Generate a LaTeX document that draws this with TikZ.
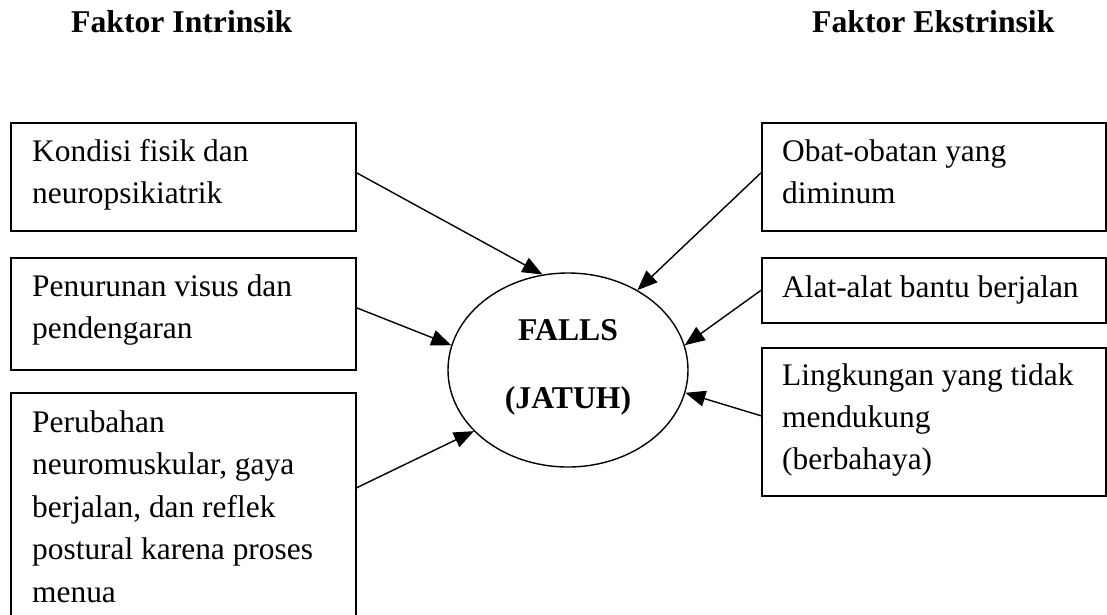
\documentclass[tikz,border=0pt]{standalone}
\usepackage{fontspec}
\setmainfont{Liberation Serif}
\usetikzlibrary{arrows.meta,shapes.geometric}
\begin{document}
\begin{tikzpicture}[x=1pt,y=-1pt,
 box/.style={draw,line width=1.6pt,rectangle,inner sep=0pt,anchor=north west},
 txt/.style={anchor=base west,inner sep=0pt,align=left,font=\fontsize{31.4}{42}\selectfont},
 ttl/.style={anchor=base west,inner sep=0pt,font=\fontsize{31.7}{38}\selectfont\bfseries},
 ctr/.style={anchor=base,inner sep=0pt,font=\fontsize{31.7}{38}\selectfont\bfseries},
 arr/.style={line width=1.4pt,-{Triangle[length=20pt,width=16pt]}}]
\useasboundingbox (0,0) rectangle (1107,614);
\clip (0,0) rectangle (1107,614);
% titles
\node[ttl] (ti) at (71,32) {Faktor Intrinsik};
\node[ttl] (te) at (812,32) {Faktor Ekstrinsik};
% left boxes
\node[box,minimum width=345pt,minimum height=108pt] (k1) at (10,122) {};
\node[box,minimum width=345pt,minimum height=112pt] (k2) at (10,257) {};
\node[box,minimum width=345pt,minimum height=230pt] (k3) at (10,392) {};
% text nodes: base anchor = baseline of last line
\node[txt] (k1t) at (32,203) {Kondisi fisik dan\\neuropsikiatrik};
\node[txt] (k2t) at (32,338) {Penurunan visus dan\\pendengaran};
\node[txt,font=\fontsize{31.4}{42.5}\selectfont] (k3t) at (32,602) {Perubahan\\neuromuskular, gaya\\berjalan, dan reflek\\postural karena proses\\menua};
% right boxes
\node[box,minimum width=344pt,minimum height=108pt] (e1) at (761,122) {};
\node[box,minimum width=344pt,minimum height=65pt] (e2) at (761,257) {};
\node[box,minimum width=344pt,minimum height=148pt] (e3) at (761,347) {};
\node[txt] (e1t) at (782,203) {Obat-obatan yang\\diminum};
\node[txt] (e2t) at (782,297) {Alat-alat bantu berjalan};
\node[txt] (e3t) at (782,469) {Lingkungan yang tidak\\mendukung\\(berbahaya)};
% centre
\node[draw,ellipse,line width=1.4pt,minimum width=240pt,minimum height=194pt,inner sep=0pt] (fall) at (568,370) {};
\node[ctr] (f1) at (568,340) {FALLS};
\node[ctr] (f2) at (568,408) {(JATUH)};
% connectors
\draw[arr] ([yshift=4pt]k1.east) -- (fall.105);
\draw[arr] ([yshift=6pt]k2.east) -- (fall.168);
\draw[arr] ([yshift=20pt]k3.east) -- (fall.213);
\draw[arr] ([yshift=4pt]e1.west) -- (fall.49);
\draw[arr] (e2.west) -- (fall.12);
\draw[arr] ([yshift=6pt]e3.west) -- (fall.349);
\end{tikzpicture}
\end{document}
